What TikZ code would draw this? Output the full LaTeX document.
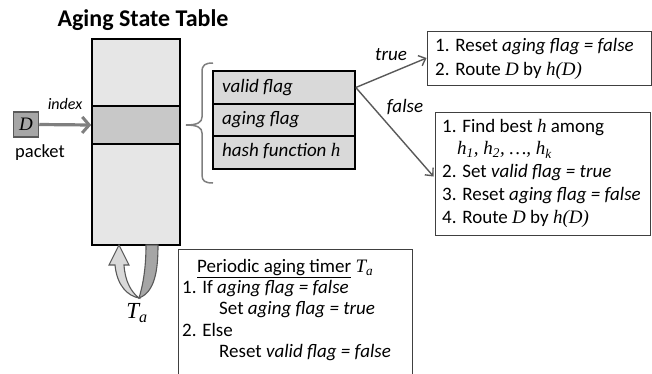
\documentclass[tikz,border=0pt]{standalone}
\usepackage{fontspec}
\setmainfont{Carlito}
\newfontfamily\serfam{Liberation Serif}
\usetikzlibrary{arrows.meta}
\definecolor{tablefill}{HTML}{E6E6E6}
\definecolor{rowfill}{HTML}{C8C8C8}
\definecolor{fieldfill}{HTML}{D9D9D9}
\definecolor{pktfill}{HTML}{A6A6A6}
\definecolor{pktdraw}{HTML}{595959}
\definecolor{idxgray}{HTML}{7F7F7F}
\definecolor{flowgray}{HTML}{595959}
\definecolor{boxline}{HTML}{404040}
\definecolor{ulight}{HTML}{D9D9D9}
\definecolor{udark}{HTML}{A6A6A6}
% serif italic for the math-like symbols
\newcommand\mv[1]{{\serfam\itshape #1}}
\newcommand\sub[1]{\textsubscript{\mv{#1}}}

\begin{document}
\begin{tikzpicture}[x=1pt,y=-1pt,
  txt/.style={font=\fontsize{19}{23}\selectfont, inner sep=0pt, anchor=west,
              text height=13.5pt, text depth=4pt},
  tablebox/.style={draw=black, line width=1.6pt, fill=tablefill, inner sep=0pt},
  entrybox/.style={draw=black, line width=1.6pt, fill=rowfill, inner sep=0pt},
  fieldbox/.style={draw=black, line width=1.6pt, fill=fieldfill, inner sep=0pt,
                   minimum width=142pt, minimum height=32.5pt},
  actbox/.style={draw=boxline, line width=0.9pt, fill=white, inner sep=0pt},
  flowarrow/.style={draw=flowgray, line width=1.4pt,
                    -{Straight Barb[length=6pt,width=11pt,line width=1.4pt]}},
  idxarrow/.style={draw=idxgray, line width=3.2pt,
                   -{Straight Barb[length=7pt,width=16pt,line width=3pt]}},
  lbl/.style={font=\itshape\fontsize{19}{22}\selectfont, inner sep=0pt},
]
\useasboundingbox (0,0) rectangle (652,373);

% title
\node[font=\bfseries\fontsize{24}{28}\selectfont, inner sep=0pt] (title) at (143,20) {Aging State Table};

% the state table and its selected entry
\node[tablebox, minimum width=88pt, minimum height=206pt] (table) at (136,142) {};
\node[entrybox, minimum width=88pt, minimum height=38pt] (entry) at (136,125) {};

% incoming packet
\node[draw=pktdraw, line width=1.5pt, fill=pktfill, minimum width=25pt, minimum height=25pt,
      inner sep=0pt, font=\fontsize{19}{21}\selectfont] (pkt) at (26,124.5) {\mv{D}};
\node[font=\fontsize{18.5}{21}\selectfont, inner sep=0pt] (pktlabel) at (40,153) {packet};
\node[font=\itshape\fontsize{16}{18}\selectfont, inner sep=0pt] (idx) at (65,104) {index};
\draw[idxarrow] (pkt.east) -- (entry.west);

% brace opening onto the entry fields
\draw[draw=idxgray, line width=1.5pt]
  (213,63) .. controls (205,63) and (202,65) .. (202,72) -- (202,117)
  .. controls (202,122) and (198,125) .. (186,125)
  .. controls (198,125) and (202,128) .. (202,133) -- (202,175)
  .. controls (202,181) and (205,183) .. (213,183);

% entry fields
\node[fieldbox] (valid) at (284,87.5) {};
\node[fieldbox] (aging) at (284,120) {};
\node[fieldbox] (hashf) at (284,152.5) {};
\node[txt] (validtxt) at (222,88) {\itshape valid flag};
\node[txt] (agingtxt) at (222,120) {\itshape aging flag};
\node[txt] (hashtxt) at (222,152) {\itshape hash function \mv{h}};

% action boxes
\node[actbox, minimum width=224pt, minimum height=54pt] (box1) at (539,58) {};
\node[txt] (b1a) at (435,47) {1. Reset \textit{aging flag = false}};
\node[txt] (b1b) at (435,71) {2. Route \mv{D} by \mv{h(D)}};

\node[actbox, minimum width=215pt, minimum height=123pt] (box2) at (542.5,173.5) {};
\node[txt] (b2a) at (442,128) {1. Find best \mv{h} among};
\node[txt] (b2b) at (457,150) {\mv{h}\sub{1}\mv{, h}\sub{2}\mv{, …, h}\sub{k}};
\node[txt] (b2c) at (442,173) {2. Set \textit{valid flag = true}};
\node[txt] (b2d) at (442,196) {3. Reset \textit{aging flag = false}};
\node[txt] (b2e) at (442,219) {4. Route \mv{D} by \mv{h(D)}};

% decision connectors
\draw[flowarrow] (valid.east) -- (box1.west);
\draw[flowarrow] (valid.east) -- ([xshift=-1pt,yshift=-3pt]box2.west);
\node[lbl] (tlabel) at (391,55) {true};
\node[lbl] (flabel) at (405,107) {false};

% periodic timer loop arrow
\draw[draw=pktdraw, line width=1.1pt, fill=udark]
  (146,245) -- (158,245) .. controls (158,270) and (155,292) .. (139,298)
  .. controls (143,285) and (146,268) .. (146,245) -- cycle;
\draw[draw=pktdraw, line width=1.1pt, fill=ulight]
  (139,298) .. controls (128,296) and (117,286) .. (115,265)
  -- (109,265) -- (119,245) -- (129,265) -- (124,265)
  .. controls (125,281) and (131,292) .. (139,298) -- cycle;
\node[font=\fontsize{23}{25}\selectfont, inner sep=0pt] (talabel) at (137,313) {\mv{T}\sub{a}};

% periodic timer box (runs off the lower edge)
\draw[draw=boxline, line width=0.9pt] (178,380) -- (178,249) -- (412,249) -- (412,380);
\node[txt] (tmr0) at (197,268) {\underline{Periodic aging timer} \mv{T}\sub{a}};
\node[txt] (tmr1) at (182,289) {1. If \textit{aging flag = false}};
\node[txt] (tmr2) at (219,310) {Set \textit{aging flag = true}};
\node[txt] (tmr3) at (182,332) {2. Else};
\node[txt] (tmr4) at (219,353) {Reset \textit{valid flag = false}};
\end{tikzpicture}
\end{document}
